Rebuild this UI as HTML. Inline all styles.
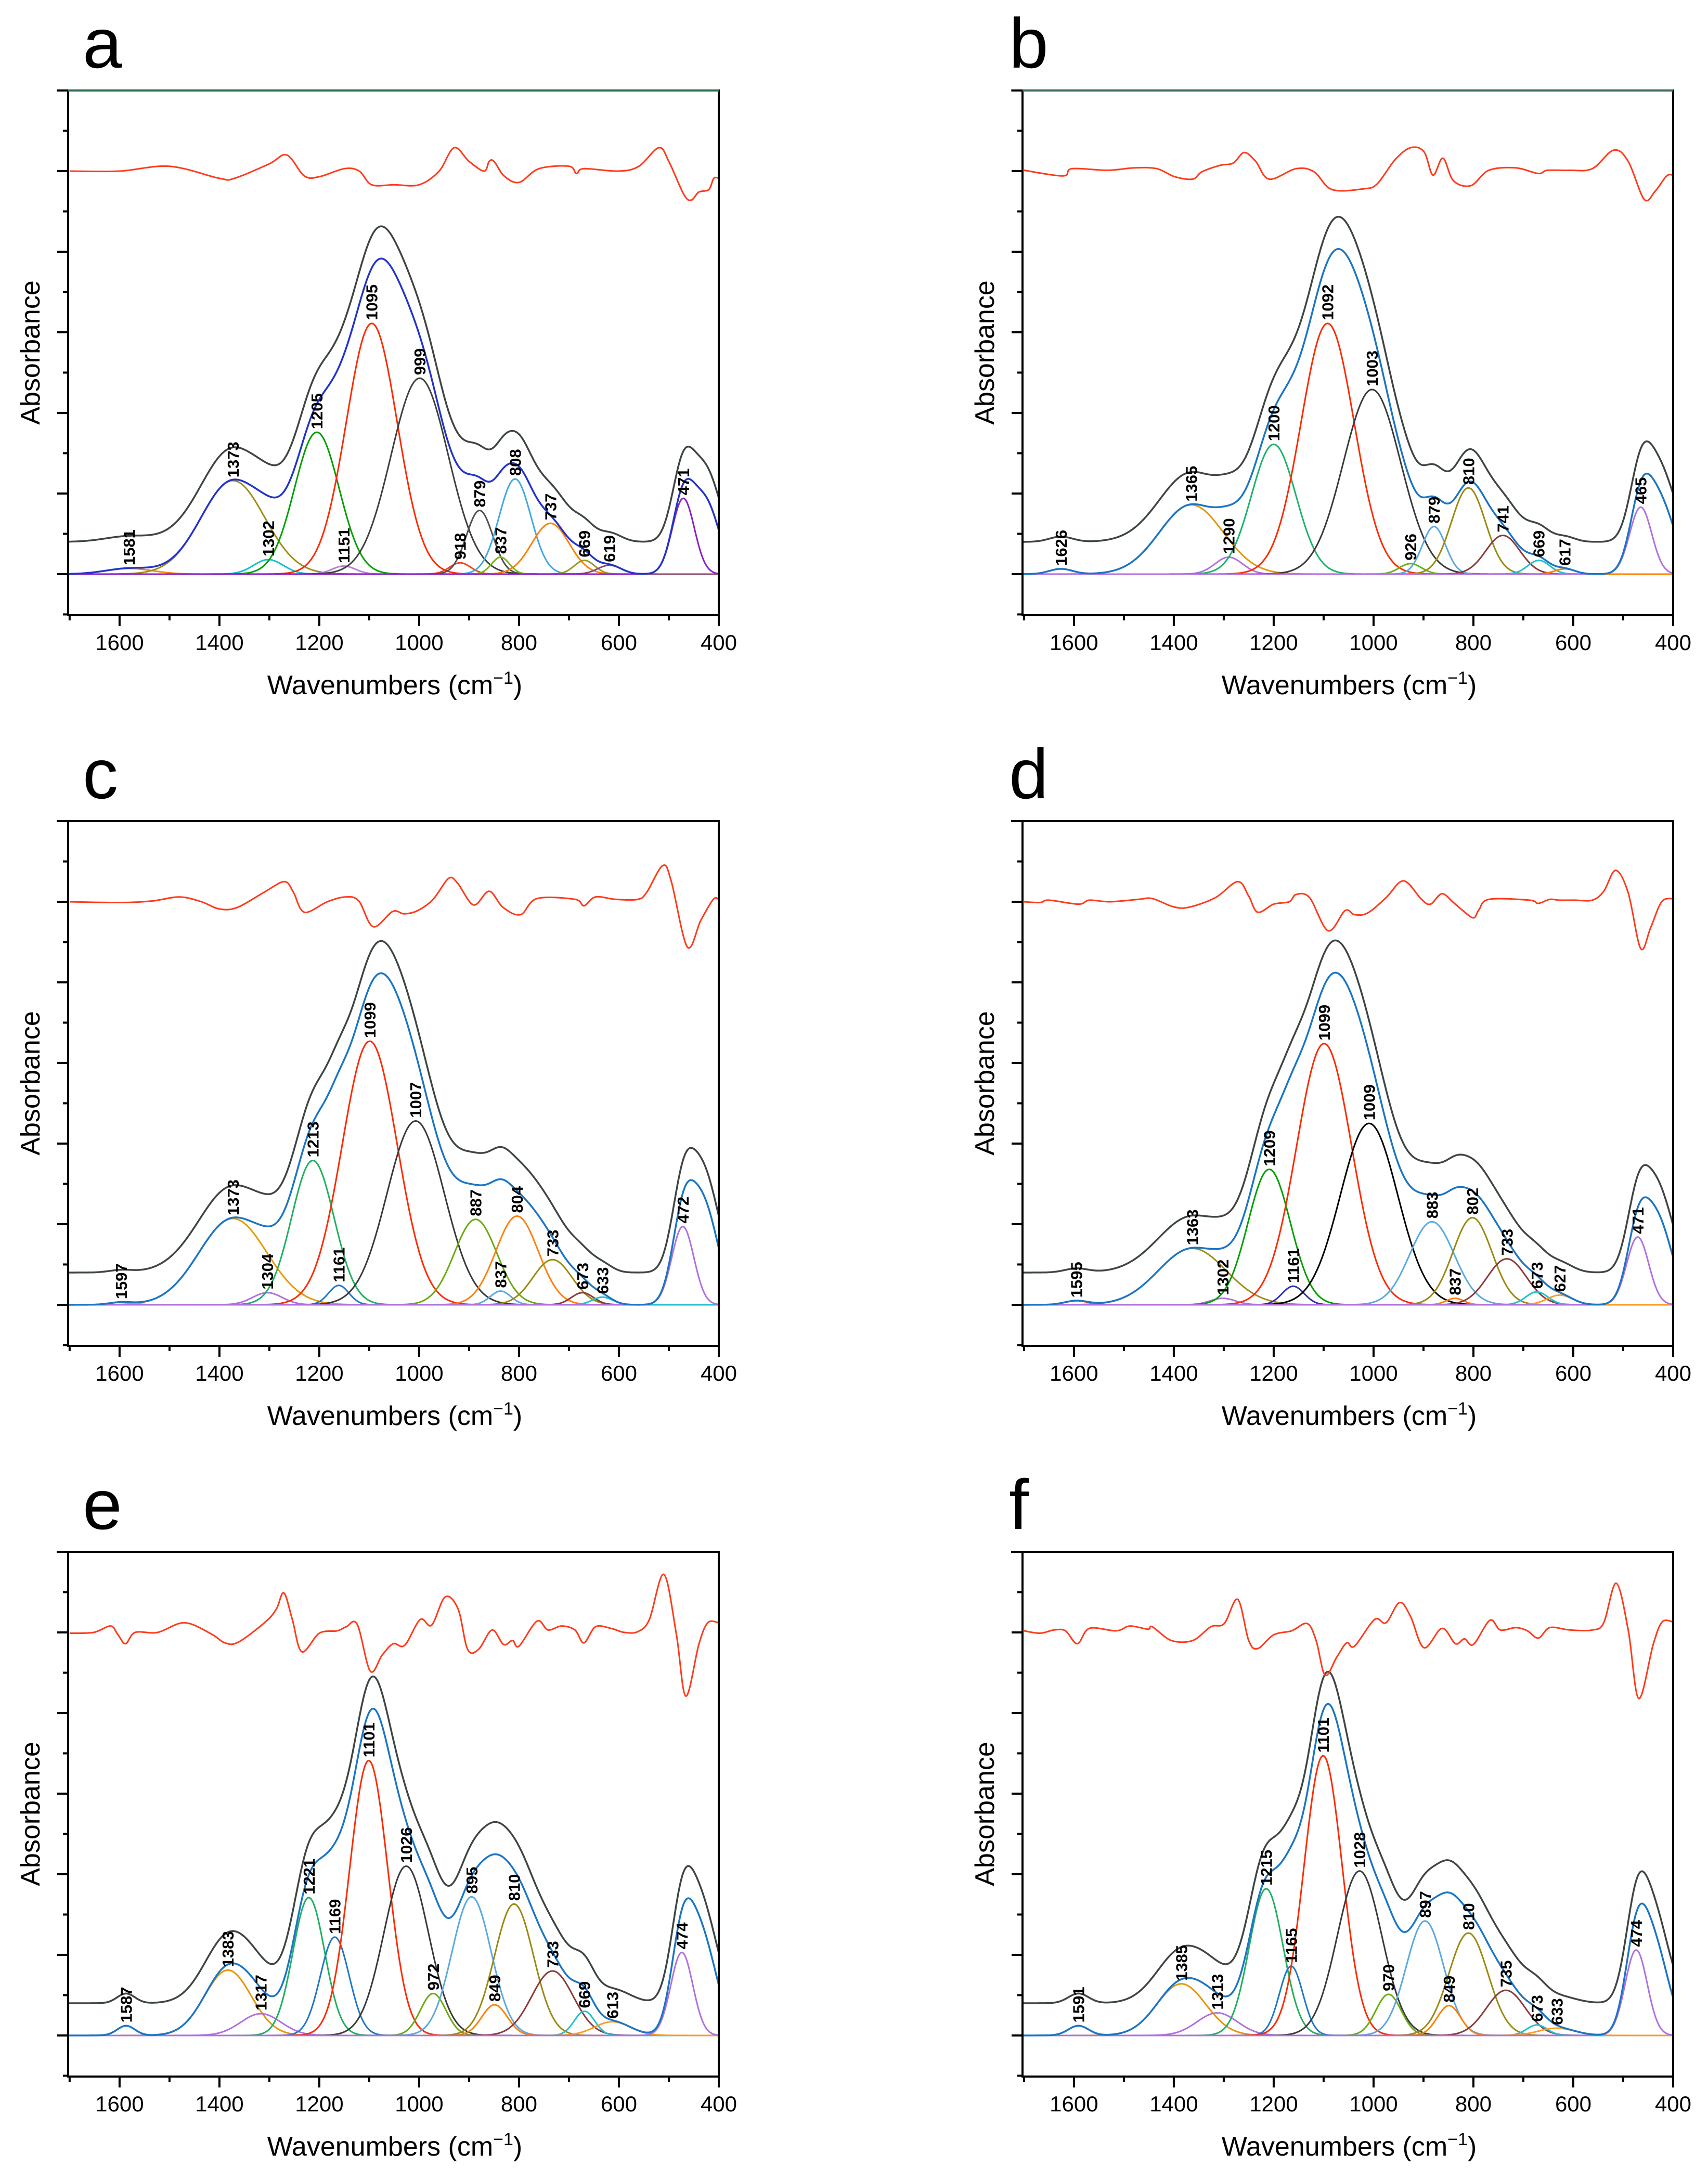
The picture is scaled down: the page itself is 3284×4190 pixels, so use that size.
<!DOCTYPE html>
<html><head><meta charset="utf-8">
<style>
html,body{margin:0;padding:0;background:#fff;}
svg{display:block;}
text{font-family:"Liberation Sans",Arial,sans-serif;}
</style></head>
<body>
<svg id="fig" xmlns="http://www.w3.org/2000/svg" width="3284" height="4190" viewBox="0 0 3284 4190"></svg>
<script>
// ---- data: peak centers (cm-1), heights (a.u. ticks), FWHM (cm-1) ----
const aCenters=[1581,1373,1302,1205,1151,1095,999,918,879,837,808,737,669,619,471];
const aHeights=[0.07,1.16,0.18,1.76,0.10,3.11,2.43,0.14,0.79,0.21,1.18,0.63,0.17,0.11,0.94];
const aWidths=[110,150,70,105,55,120,135,50,62,42,75,88,48,55,52];
const aColors=["#ff7f0e","#a08c1a","#17becf","#00a000","#b77fd6","#ff2a00","#404040","#ff4020","#505050","#7ab317","#3fa9e0","#ff8000","#9a9a20","#8b4a6b","#8a1fc6"];
const aHidden=[425,0.85,62];
const aResWn=[1700,1600,1500,1400,1370,1300,1265,1230,1200,1150,1120,1095,1050,1000,960,930,900,870,860,850,830,800,760,700,685,670,600,560,520,500,470,455,440,420,410,400];
const aResVal=[0,0,0.06,-0.09,-0.09,0.09,0.20,-0.06,-0.07,0.03,0,-0.17,-0.17,-0.17,0,0.29,0.12,0,0.12,0.12,-0.06,-0.14,0.03,0.06,-0.03,0.03,0,0.06,0.29,0.12,-0.29,-0.36,-0.26,-0.23,-0.09,-0.09];

const bCenters=[1626,1365,1290,1200,1092,1003,926,879,810,741,669,617,465];
const bHeights=[0.065,0.86,0.21,1.61,3.11,2.29,0.13,0.59,1.07,0.48,0.17,0.065,0.83];
const bWidths=[55,150,65,105,125,135,52,55,80,80,52,48,52];
const bColors=["#8c4a4a","#e69500","#b070e0","#1cb36a","#ff2a00","#3a3a3a","#66b01a","#5aa9e0","#9a8a10","#8b3a3a","#20c0d0","#ff8000","#b070e0"];
const bHidden=[425,0.85,68];
const bResWn=[1700,1622,1604,1533,1479,1434,1398,1362,1344,1308,1281,1259,1236,1209,1155,1119,1083,1020,993,957,926,899,881,861,840,805,769,715,670,652,607,562,519,490,458,436,413,400];
const bResVal=[0.01,-0.06,0.03,0.01,0.04,0.03,-0.07,-0.10,-0.01,0.07,0.10,0.23,0.12,-0.10,0.03,-0.01,-0.23,-0.22,-0.16,0.14,0.29,0.24,-0.05,0.16,-0.12,-0.18,0.01,0.04,-0.03,0.01,0.01,0.03,0.26,0.12,-0.35,-0.25,-0.06,-0.05];

const cCenters=[1597,1373,1304,1213,1161,1099,1007,887,837,804,733,673,633,472];
const cHeights=[0.03,1.07,0.15,1.79,0.24,3.27,2.28,1.06,0.17,1.10,0.56,0.15,0.095,0.97];
const cWidths=[55,160,70,100,48,130,135,100,48,100,92,52,48,52];
const cColors=["#ff8000","#e69a00","#b070e0","#20b060","#1f78c8","#ff2a00","#3a3a3a","#6aaa10","#5aa9e0","#ff7f0e","#9a8a10","#8b3a3a","#20c0d0","#b070e0"];
const cHidden=[430,1.2,68];
const cResWn=[1700,1597,1534,1480,1436,1400,1364,1310,1270,1252,1230,1184,1148,1121,1092,1053,1030,1003,972,941,923,891,860,832,797,764,688,670,647,607,562,544,512,495,463,436,411,400];
const cResVal=[0,-0.01,0.01,0.06,0,-0.09,-0.07,0.12,0.25,0.12,-0.13,0,0.06,0.01,-0.31,-0.12,-0.15,-0.11,0.03,0.29,0.23,-0.04,0.13,-0.07,-0.16,0.04,0.03,-0.05,0.06,0.03,0.03,0.12,0.45,0.25,-0.56,-0.23,0.03,0.03];

const dCenters=[1595,1363,1302,1209,1161,1099,1009,883,837,802,733,673,627,471];
const dHeights=[0.05,0.70,0.08,1.68,0.23,3.24,2.25,1.03,0.08,1.08,0.57,0.16,0.12,0.84];
const dWidths=[55,160,60,100,52,130,135,105,42,92,92,52,60,52];
const dColors=["#ff2a00","#a08c1a","#b070e0","#00a000","#3030b0","#ff2a00","#000000","#5aa9e0","#ff8000","#9a8a10","#8b3a3a","#20c0d0","#ff9a20","#b070e0"];
const dHidden=[430,1.0,68];
const dResWn=[1700,1668,1650,1591,1569,1528,1470,1443,1402,1371,1317,1272,1250,1232,1200,1169,1155,1128,1091,1057,1038,1012,975,940,904,886,863,840,823,800,789,769,688,670,647,629,598,562,539,515,490,465,445,423,400];
const dResVal=[0,-0.01,0.02,-0.03,0.02,0,0.03,0.04,-0.06,-0.07,0.05,0.25,0.07,-0.13,-0.03,0,0.09,0.05,-0.36,-0.11,-0.16,-0.14,0.05,0.26,0.03,-0.03,0.10,-0.01,-0.10,-0.20,-0.10,0.03,0.02,-0.02,0.03,0.02,0.02,0.02,0.13,0.39,0.11,-0.58,-0.32,0,0.04];

const eCenters=[1587,1383,1317,1221,1169,1101,1026,972,895,849,810,733,669,613,474];
const eHeights=[0.12,0.81,0.27,1.71,1.22,3.41,2.10,0.52,1.72,0.38,1.63,0.80,0.30,0.17,1.03];
const eWidths=[42,110,95,75,68,90,105,60,92,60,92,98,48,85,52];
const eColors=["#8b3a3a","#e69500","#b070e0","#20b060","#1f78c8","#ff2a00","#3a3a3a","#6aaa10","#5aa9e0","#ff8000","#9a8a10","#8b3a3a","#20c0d0","#ff9a20","#b070e0"];
const eHidden=[435,1.2,72];
const eResWn=[1700,1652,1618,1604,1588,1569,1524,1470,1416,1389,1362,1308,1286,1271,1254,1235,1200,1164,1146,1124,1098,1074,1052,1029,998,975,948,922,903,881,854,831,813,800,764,742,715,688,670,647,616,589,562,539,510,485,466,440,422,400];
const eResVal=[-0.01,0,0.08,-0.02,-0.14,0,0,0.12,-0.02,-0.13,-0.12,0.13,0.29,0.49,0.16,-0.24,-0.01,0.02,0.07,0.10,-0.48,-0.28,-0.14,-0.16,0.16,0.09,0.44,0.29,-0.21,-0.21,0.03,-0.15,-0.10,-0.17,0.14,0.03,0.08,0.03,-0.13,0.07,0.05,0,0.01,0.16,0.72,-0.02,-0.79,-0.15,0.12,0.12];

const fCenters=[1591,1385,1313,1215,1165,1101,1028,970,897,849,810,735,673,633,474];
const fHeights=[0.12,0.64,0.28,1.82,0.86,3.47,2.04,0.51,1.42,0.37,1.27,0.56,0.13,0.09,1.06];
const fWidths=[48,115,95,80,55,90,105,60,88,55,92,92,48,85,52];
const fColors=["#20c0d0","#e69500","#b070e0","#20b060","#1f78c8","#ff2a00","#3a3a3a","#6aaa10","#5aa9e0","#ff8000","#9a8a10","#8b3a3a","#20c0d0","#ff9a20","#b070e0"];
const fHidden=[437,1.05,68];
const fResWn=[1700,1668,1640,1617,1593,1569,1515,1488,1452,1443,1405,1362,1326,1299,1272,1250,1232,1200,1164,1133,1115,1097,1074,1054,1038,998,975,948,926,899,863,836,818,800,767,746,715,692,670,647,607,562,539,514,490,469,440,422,400];
const fResVal=[0.02,-0.01,0.03,0.02,-0.14,0.05,0.02,0.08,0.04,0.07,-0.10,-0.10,0.07,0.11,0.41,-0.10,-0.20,-0.03,0.02,0.11,-0.10,-0.53,-0.31,-0.13,-0.17,0.16,0.12,0.37,0.20,-0.19,0.05,-0.14,-0.08,-0.15,0.15,0.03,0.06,0.02,-0.07,0.06,0.03,0.03,0.12,0.61,0.03,-0.82,-0.15,0.13,0.13];

const fitOffset=0.40;      // experimental spectrum offset above fit sum
const residualLevel=5.0;   // residual trace level
const xTicks=[1600,1400,1200,1000,800,600,400];

const NS="http://www.w3.org/2000/svg";
const svg=document.getElementById("fig");
const W=1251,H=1009,WN_MAX=1703,WN_MIN=400,V_MIN=-0.51,V_MAX=6.0;

function mk(tag,attrs,parent){const e=document.createElementNS(NS,tag);for(const k in attrs)e.setAttribute(k,attrs[k]);(parent||svg).appendChild(e);return e;}

const panels=[
 {id:"a",fx:131,fy:174,C:aCenters,Hh:aHeights,Wd:aWidths,Col:aColors,hid:aHidden,rw:aResWn,rv:aResVal,sum:"#2233cc",top:"#2f6b4f"},
 {id:"b",fx:1966,fy:174,C:bCenters,Hh:bHeights,Wd:bWidths,Col:bColors,hid:bHidden,rw:bResWn,rv:bResVal,sum:"#1b75c4",top:"#3d6b5c"},
 {id:"c",fx:131,fy:1579,C:cCenters,Hh:cHeights,Wd:cWidths,Col:cColors,hid:cHidden,rw:cResWn,rv:cResVal,sum:"#1b75c4",top:"#000"},
 {id:"d",fx:1966,fy:1579,C:dCenters,Hh:dHeights,Wd:dWidths,Col:dColors,hid:dHidden,rw:dResWn,rv:dResVal,sum:"#1b75c4",top:"#000"},
 {id:"e",fx:131,fy:2984,C:eCenters,Hh:eHeights,Wd:eWidths,Col:eColors,hid:eHidden,rw:eResWn,rv:eResVal,sum:"#1b75c4",top:"#000"},
 {id:"f",fx:1966,fy:2984,C:fCenters,Hh:fHeights,Wd:fWidths,Col:fColors,hid:fHidden,rw:fResWn,rv:fResVal,sum:"#1b75c4",top:"#000"}
];

function gauss(x,c,h,w){const d=(x-c)/w;return h*Math.exp(-2.7726*d*d);}
function smoothPath(pts){
  let d="M"+pts[0][0].toFixed(1)+","+pts[0][1].toFixed(1);
  for(let i=0;i<pts.length-1;i++){
    const p0=pts[i-1]||pts[i],p1=pts[i],p2=pts[i+1],p3=pts[i+2]||p2;
    const c1x=p1[0]+(p2[0]-p0[0])/6,c1y=p1[1]+(p2[1]-p0[1])/6;
    const c2x=p2[0]-(p3[0]-p1[0])/6,c2y=p2[1]-(p3[1]-p1[1])/6;
    d+="C"+c1x.toFixed(1)+","+c1y.toFixed(1)+" "+c2x.toFixed(1)+","+c2y.toFixed(1)+" "+p2[0].toFixed(1)+","+p2[1].toFixed(1);
  }
  return d;
}

panels.forEach(p=>{
  const X=wn=>p.fx+(WN_MAX-wn)/(WN_MAX-WN_MIN)*W;
  const Y=v=>p.fy+H-(v-V_MIN)/(V_MAX-V_MIN)*H;
  const g=mk("g",{});
  
  
  const clip=mk("clipPath",{id:"clip-"+p.id},g);
  mk("rect",{x:p.fx,y:p.fy,width:W,height:H},clip);
  const plot=mk("g",{"clip-path":"url(#clip-"+p.id+")"},g);
  
  

  const xs=[];for(let x=WN_MAX;x>=WN_MIN;x-=1)xs.push(x);
  const sumVals=xs.map(x=>{let s=gauss(x,p.hid[0],p.hid[1],p.hid[2]);for(let i=0;i<p.C.length;i++)s+=gauss(x,p.C[i],p.Hh[i],p.Wd[i]);return s;});

  const bl=mk("line",{x1:p.fx,x2:p.fx+W,y1:Y(0),y2:Y(0),stroke:"#d4a020","stroke-width":3},plot);
  
  

  for(let i=0;i<p.C.length;i++){
    let d="";xs.forEach((x,j)=>{d+=(j?"L":"M")+X(x).toFixed(1)+","+Y(gauss(x,p.C[i],p.Hh[i],p.Wd[i])).toFixed(1);});
    const path=mk("path",{d:d,fill:"none",stroke:p.Col[i],"stroke-width":3},plot);
    
    
  }
  let ds="",dk="";
  xs.forEach((x,j)=>{ds+=(j?"L":"M")+X(x).toFixed(1)+","+Y(sumVals[j]).toFixed(1);dk+=(j?"L":"M")+X(x).toFixed(1)+","+Y(sumVals[j]+fitOffset).toFixed(1);});
  const sp=mk("path",{d:ds,fill:"none",stroke:p.sum,"stroke-width":3.5},plot);
  
  
  const kp=mk("path",{d:dk,fill:"none",stroke:"#3e4642","stroke-width":3.5},plot);
  
  
  const rpts=p.rw.map((w,j)=>[X(w),Y(residualLevel+p.rv[j])]);
  const rp=mk("path",{d:smoothPath(rpts),fill:"none",stroke:"#ff3a1a","stroke-width":3,"stroke-linejoin":"round"},plot);
  
  

  for(let i=0;i<p.C.length;i++){
    const lx=X(p.C[i]),ly=Y(p.Hh[i])-6;
    const t=mk("text",{x:0,y:0,transform:"translate("+(lx+11).toFixed(1)+","+ly.toFixed(1)+") rotate(-90)","font-size":31,"font-weight":"bold",fill:"#000"},g);
    t.textContent=String(p.C[i]);
    
    
  }

  const fr=mk("rect",{x:p.fx,y:p.fy,width:W,height:H,fill:"none",stroke:"#000","stroke-width":4},g);
  
  
  const tl=mk("line",{x1:p.fx-22,x2:p.fx+W,y1:p.fy,y2:p.fy,stroke:p.top,"stroke-width":4},g);
  
  

  for(let v=-0.5;v<=6.001;v+=0.5){
    const major=Math.abs(v-Math.round(v))<1e-6;
    const tk=mk("line",{x1:p.fx-(major?21:10),x2:p.fx,y1:Y(v),y2:Y(v),stroke:"#000","stroke-width":4},g);
    
    
  }
  for(let w=1700;w>=400;w-=100){
    const major=w%200===0;
    const tk=mk("line",{x1:X(w),x2:X(w),y1:p.fy+H,y2:p.fy+H+(major?21:10),stroke:"#000","stroke-width":4},g);
    
    
  }
  xTicks.forEach(w=>{
    const t=mk("text",{x:X(w),y:p.fy+H+67,"font-size":42,"text-anchor":"middle",fill:"#000"},g);
    t.textContent=String(w);
    
    
  });
  const xt=mk("text",{x:p.fx+628,y:p.fy+H+152,"font-size":52,"text-anchor":"middle",fill:"#000"},g);
  xt.innerHTML='Wavenumbers (cm<tspan dy="-20" font-size="34">\u22121</tspan><tspan dy="20">)</tspan>';
  
  
  const yt=mk("text",{x:0,y:0,transform:"translate("+(p.fx-55)+","+(p.fy+504)+") rotate(-90)","font-size":52,"text-anchor":"middle",fill:"#000"},g);
  yt.textContent="Absorbance";
  
  
  const lt=mk("text",{x:(p.fx<1000?p.fx+28:p.fx-26),y:p.fy-44,"font-size":136,fill:"#000"},g);
  lt.textContent=p.id;
  
  
});
</script>
</body></html>
